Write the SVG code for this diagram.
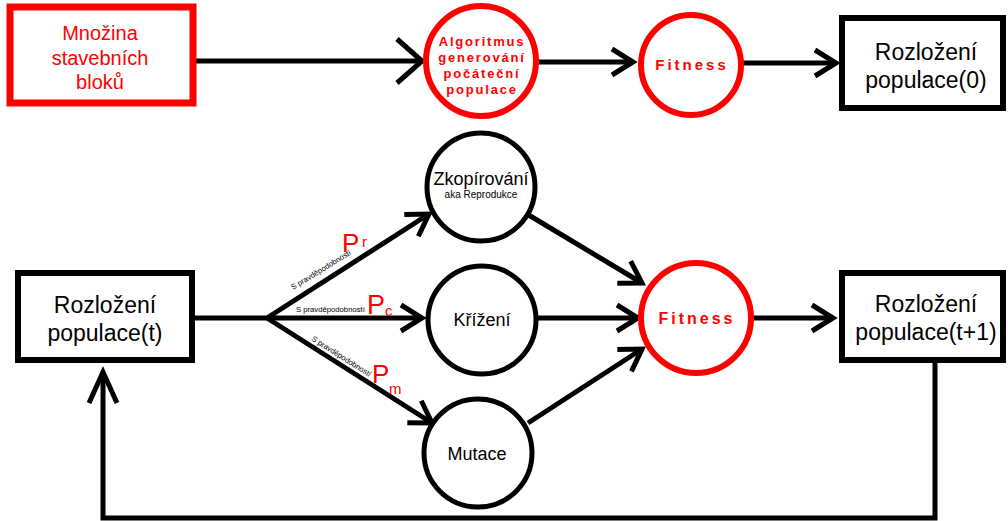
<svg xmlns="http://www.w3.org/2000/svg" width="1008" height="521" viewBox="0 0 1008 521">
<defs>
<style>
.box{fill:#fff;stroke:#000;stroke-width:6}
.rbox{fill:#fff;stroke:#ff0000;stroke-width:7}
.circ{fill:#fff;stroke:#000;stroke-width:5}
.rcirc{fill:#fff;stroke:#ff0000;stroke-width:6}
.t{font-family:"Liberation Sans",Arial,sans-serif;fill:#000;text-anchor:middle}
.rt{font-family:"Liberation Sans",Arial,sans-serif;fill:#ff0000;text-anchor:middle}
.rb{font-family:"Liberation Sans",Arial,sans-serif;fill:#ff0000;font-weight:bold;text-anchor:middle}
.small{font-family:"Liberation Sans",Arial,sans-serif;fill:#000;font-size:7.7px}
.p{font-family:"Liberation Sans",Arial,sans-serif;fill:#ff0000}
.ln{fill:none;stroke:#000;stroke-width:5}
</style>
<marker id="arr" markerUnits="userSpaceOnUse" orient="auto" markerWidth="40" markerHeight="40" refX="0" refY="0" viewBox="-30 -20 40 40" overflow="visible">
<path d="M-21,-13 L0,0 L-21,13" fill="none" stroke="#000" stroke-width="5"/>
</marker>
<marker id="arrBig" markerUnits="userSpaceOnUse" orient="auto" markerWidth="60" markerHeight="60" refX="0" refY="0" viewBox="-30 -30 60 60" overflow="visible">
<path d="M-25,-22 L0,0 L-25,22" fill="none" stroke="#000" stroke-width="5"/>
</marker>
<marker id="arrLong" markerUnits="userSpaceOnUse" orient="auto" markerWidth="60" markerHeight="60" refX="0" refY="0" viewBox="-40 -30 60 60" overflow="visible">
<path d="M-31,-14 L0,0 L-31,14" fill="none" stroke="#000" stroke-width="5"/>
</marker>
</defs>
<rect width="1008" height="521" fill="#fff"/>

<g id="connectors">
<line class="ln" x1="193" y1="61" x2="422" y2="61" marker-end="url(#arrBig)"/>
<line class="ln" x1="536" y1="62" x2="633" y2="62" marker-end="url(#arr)"/>
<line class="ln" x1="741" y1="63" x2="836" y2="63" marker-end="url(#arr)"/>
<polyline class="ln" points="192,318 267,318"/>
<line class="ln" x1="267" y1="318" x2="429" y2="214" marker-end="url(#arr)"/>
<line class="ln" x1="267" y1="318" x2="422" y2="318" marker-end="url(#arr)"/>
<line class="ln" x1="267" y1="318" x2="432" y2="423" marker-end="url(#arr)"/>
<line class="ln" x1="527" y1="214" x2="642" y2="283" marker-end="url(#arr)"/>
<line class="ln" x1="537" y1="318" x2="638" y2="318" marker-end="url(#arr)"/>
<line class="ln" x1="528" y1="423" x2="642" y2="349" marker-end="url(#arr)"/>
<line class="ln" x1="751" y1="318" x2="833" y2="318" marker-end="url(#arr)"/>
<polyline class="ln" points="935,361 935,518 103,518 103,372" marker-end="url(#arrLong)"/>
<text class="small" transform="translate(293,290) rotate(-31.5)">S pravděpodobností</text>
<text class="small" x="296" y="312">S pravděpodobností</text>
<text class="small" transform="translate(311,340) rotate(32.5)">S pravděpodobností</text>
<text class="p" x="342" y="252" font-size="26">P</text>
<text class="p" x="362" y="247" font-size="15">r</text>
<text class="p" x="367" y="314" font-size="27">P</text>
<text class="p" x="385" y="316" font-size="15">c</text>
<text class="p" x="372" y="383" font-size="26">P</text>
<text class="p" x="389" y="394" font-size="15">m</text>
</g>

<g id="mnozina">
<rect class="rbox" x="10" y="7" width="183" height="96"/>
<text class="rt" font-size="20" x="100" y="40">Množina</text>
<text class="rt" font-size="20" x="100" y="65">stavebních</text>
<text class="rt" font-size="20" x="100" y="89">bloků</text>
</g>

<g id="algoritmus">
<circle class="rcirc" cx="481" cy="61" r="55"/>
<text class="rb" font-size="13" letter-spacing="1.8" x="482" y="46">Algoritmus</text>
<text class="rb" font-size="13" letter-spacing="1.8" x="482" y="62">generování</text>
<text class="rb" font-size="13" letter-spacing="1.8" x="482" y="78">počáteční</text>
<text class="rb" font-size="13" letter-spacing="1.8" x="482" y="94">populace</text>
</g>

<g id="fitness0">
<circle class="rcirc" cx="691" cy="65" r="50"/>
<text class="rb" font-size="15" letter-spacing="3" x="692" y="70">Fitness</text>
</g>

<g id="populace0">
<rect class="box" x="842" y="18" width="161" height="90"/>
<text class="t" font-size="23" x="926" y="60">Rozložení</text>
<text class="t" font-size="23" x="926" y="88">populace(0)</text>
</g>

<g id="populaceT">
<rect class="box" x="18" y="273" width="174" height="87"/>
<text class="t" font-size="23" x="105" y="313">Rozložení</text>
<text class="t" font-size="23" x="105" y="341">populace(t)</text>
</g>

<g id="zkopirovani">
<circle class="circ" cx="481" cy="187" r="54"/>
<text class="t" font-size="18" x="481" y="185">Zkopírování</text>
<text class="t" font-size="10" x="481" y="198">aka Reprodukce</text>
</g>

<g id="krizeni">
<circle class="circ" cx="482" cy="320" r="54"/>
<text class="t" font-size="18" x="482" y="326">Křížení</text>
</g>

<g id="mutace">
<circle class="circ" cx="478" cy="453" r="54"/>
<text class="t" font-size="18" x="477" y="460">Mutace</text>
</g>

<g id="fitness">
<circle class="rcirc" cx="696" cy="318" r="55"/>
<text class="rb" font-size="16" letter-spacing="3" x="697" y="324">Fitness</text>
</g>

<g id="populaceT1">
<rect class="box" x="842" y="273" width="161" height="87"/>
<text class="t" font-size="23" x="926" y="312">Rozložení</text>
<text class="t" font-size="23" x="926" y="340">populace(t+1)</text>
</g>
</svg>
